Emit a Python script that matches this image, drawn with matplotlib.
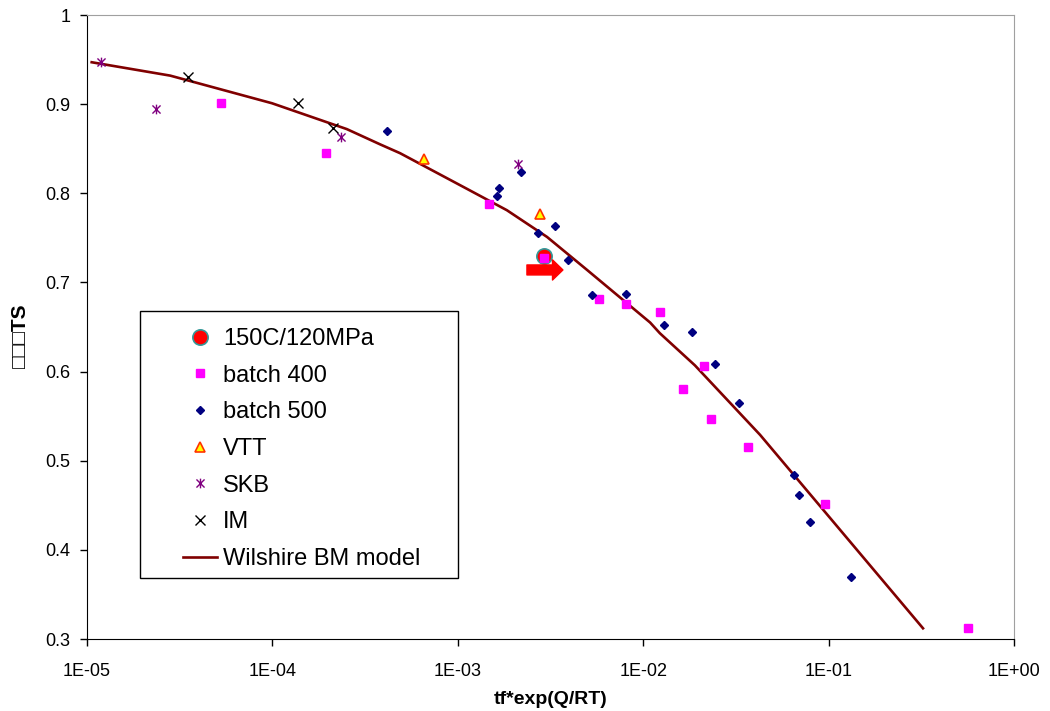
import matplotlib
matplotlib.use("Agg")
import matplotlib.pyplot as plt
from matplotlib.path import Path
from matplotlib.patches import Rectangle

plt.rcParams['font.family'] = ['Liberation Sans', 'DejaVu Sans']

# data
test_x = [2.92e-3]
test_y = [0.730]

b400_x = [5.28e-5, 1.95e-4, 1.47e-3, 2.92e-3, 5.78e-3, 8.07e-3, 1.23e-2,
          1.64e-2, 2.13e-2, 2.32e-2, 3.67e-2, 9.57e-2, 0.565]
b400_y = [0.901, 0.845, 0.788, 0.727, 0.681, 0.676, 0.667,
          0.580, 0.606, 0.547, 0.515, 0.452, 0.312]

b500_x = [4.15e-4, 1.63e-3, 1.67e-3, 2.19e-3, 2.71e-3, 3.34e-3, 3.93e-3,
          5.30e-3, 8.07e-3, 1.29e-2, 1.83e-2, 2.44e-2, 3.29e-2, 6.50e-2,
          6.92e-2, 7.94e-2, 0.132]
b500_y = [0.870, 0.797, 0.806, 0.824, 0.755, 0.763, 0.725,
          0.686, 0.687, 0.652, 0.644, 0.609, 0.565, 0.484,
          0.462, 0.431, 0.370]

vtt_x = [6.58e-4, 2.77e-3]
vtt_y = [0.838, 0.777]

skb_x = [1.19e-5, 2.36e-5, 2.34e-4, 2.11e-3]
skb_y = [0.947, 0.894, 0.863, 0.833]

im_x = [3.51e-5, 1.37e-4, 2.12e-4]
im_y = [0.930, 0.901, 0.873]

model_x = [1.06e-5, 2.81e-5, 9.95e-5, 2.52e-4, 3.80e-4, 4.88e-4, 1.12e-3,
           1.84e-3, 3.03e-3, 4.98e-3, 1.09e-2, 1.23e-2, 1.90e-2, 4.27e-2, 0.323]
model_y = [0.947, 0.932, 0.901, 0.872, 0.855, 0.845, 0.805,
           0.781, 0.751, 0.714, 0.655, 0.643, 0.607, 0.529, 0.312]

xticks = [1e-5, 1e-4, 1e-3, 1e-2, 1e-1, 1e0]
xticklabels = ['1E-05', '1E-04', '1E-03', '1E-02', '1E-01', '1E+00']
yticks = [0.3, 0.4, 0.5, 0.6, 0.7, 0.8, 0.9, 1.0]
yticklabels = ['0.3', '0.4', '0.5', '0.6', '0.7', '0.8', '0.9', '1']

# excel style "star" marker: an x with a vertical bar
star = Path([(-1, -1), (1, 1), (-1, 1), (1, -1), (0, -1.2), (0, 1.2)],
            [Path.MOVETO, Path.LINETO, Path.MOVETO, Path.LINETO,
             Path.MOVETO, Path.LINETO])

fig = plt.figure(figsize=(10.5, 7.11), dpi=100)
ax = fig.add_axes([87 / 1050, 1 - 639 / 711, 927 / 1050, 624 / 711])

ax.plot(model_x, model_y, color='#800000', lw=1.9, label='Wilshire BM model', zorder=2)
ax.plot(b400_x, b400_y, 's', color='#FF00FF', ms=5.5, mec='#FF00FF', label='batch 400', zorder=4)
ax.plot(b500_x, b500_y, 'D', color='#000080', ms=4.5, mec='#000080', label='batch 500', zorder=4)
ax.plot(vtt_x, vtt_y, '^', color='#FFFF00', mec='#FF3300', mew=1.2, ms=6.5, label='VTT', zorder=4)
ax.plot(skb_x, skb_y, ls='none', marker=star, mec='#800080', mew=1, ms=7, label='SKB', zorder=4)
ax.plot(im_x, im_y, 'x', color='black', mew=1, ms=6.5, label='IM', zorder=4)
ax.plot(test_x, test_y, 'o', color='#FF0000', mec='#339999', mew=1.2, ms=11,
        label='150C/120MPa', zorder=3)

# red block arrow pointing at the test point
ax.annotate('', xy=(3.69e-3, 0.714), xytext=(2.36e-3, 0.714),
            arrowprops=dict(arrowstyle='simple,head_width=1.45,head_length=0.75,tail_width=0.72',
                            color='#FF0000', shrinkA=0, shrinkB=0, mutation_scale=10),
            zorder=5)

ax.set_xscale('log')
ax.set_xlim(1e-5, 1)
ax.set_ylim(0.3, 1.0)
ax.set_xticks(xticks)
ax.set_xticklabels(xticklabels)
ax.xaxis.set_minor_locator(matplotlib.ticker.NullLocator())
ax.set_yticks(yticks)
ax.set_yticklabels(yticklabels)
ax.tick_params(axis='x', labelsize=13, length=5, pad=12, width=1)
ax.tick_params(axis='y', labelsize=13, length=5, pad=7, width=1)

for s in ['top', 'right']:
    ax.spines[s].set_color('#a0a0a0')
for s in ['left', 'bottom']:
    ax.spines[s].set_color('black')

ax.set_xlabel('tf*exp(Q/RT)', fontsize=14, fontweight='bold', labelpad=8)
fig.text(20 / 1050, 1 - 336 / 711, '\u25a1\u25a1\u25a1TS', rotation=90, fontsize=15,
         fontweight='bold', ha='center', va='center')

handles, labels = ax.get_legend_handles_labels()
order = ['150C/120MPa', 'batch 400', 'batch 500', 'VTT', 'SKB', 'IM', 'Wilshire BM model']
hl = dict(zip(labels, handles))
leg = fig.legend([hl[k] for k in order], order, loc='upper left',
                 bbox_to_anchor=(183 / 1050, 1 - 328 / 711), frameon=False,
                 fontsize=17, borderpad=0, handlelength=1.45, handletextpad=0.25,
                 labelspacing=0.62, borderaxespad=0)
fig.patches.append(Rectangle((140 / 1050, 1 - 578 / 711), 318 / 1050, 267 / 711,
                             transform=fig.transFigure, fill=False, ec='black', lw=1))

fig.savefig('out.png', dpi=100)
